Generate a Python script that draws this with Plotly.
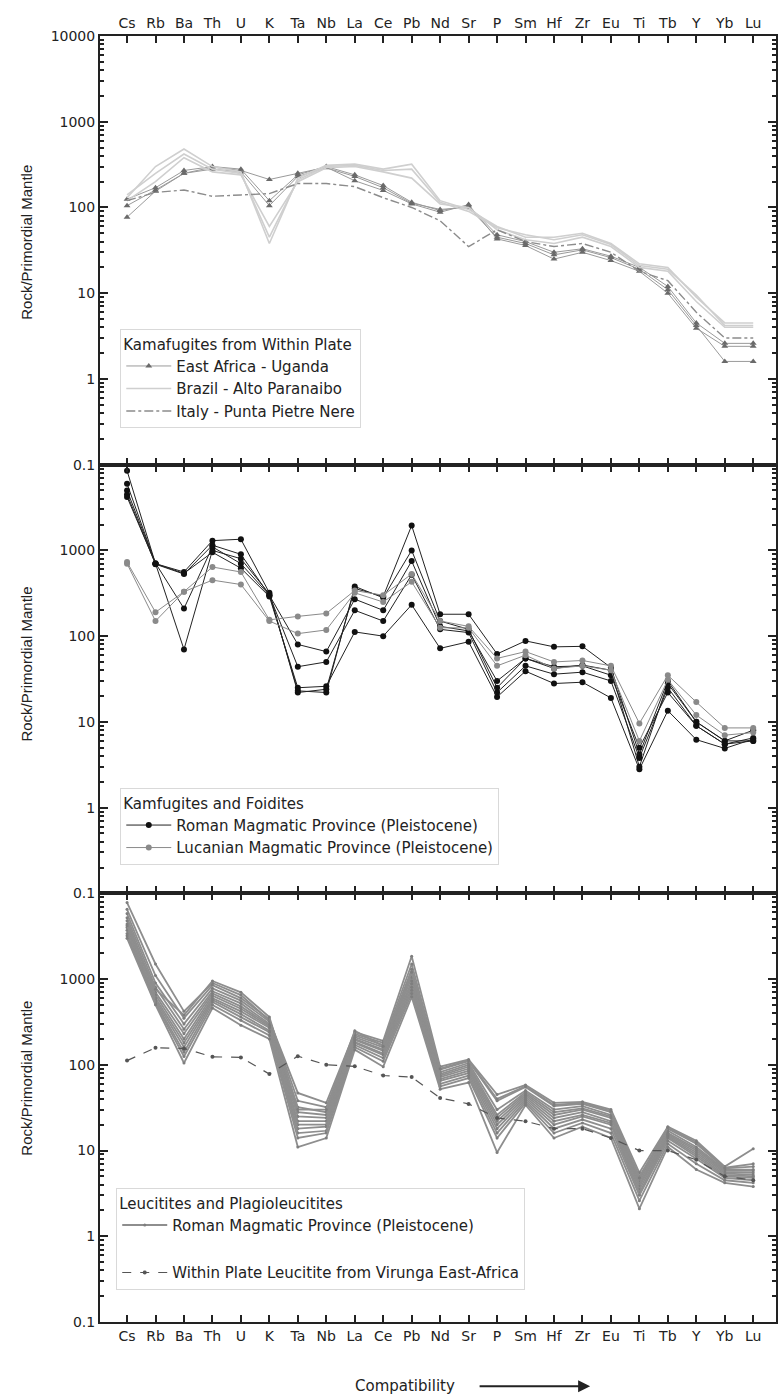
import plotly.graph_objects as go

ELEMENTS = ["Cs", "Rb", "Ba", "Th", "U", "K", "Ta", "Nb", "La", "Ce", "Pb", "Nd",
            "Sr", "P", "Sm", "Hf", "Zr", "Eu", "Ti", "Tb", "Y", "Yb", "Lu"]

# ---------------- Panel 1: Kamafugites from Within Plate ----------------
UGANDA_1 = [77, 155, 250, 295, 270, 212, 250, 295, 205, 158, 110, 88, 108, 43, 36, 25, 30, 24, 18, 10, 3.9, 2.4, 2.4]
UGANDA_2 = [105, 160, 250, 280, 260, 105, 230, 290, 230, 170, 112, 95, 100, 45, 38, 28, 32, 26, 19, 11, 4.2, 1.6, 1.6]
UGANDA_3 = [125, 170, 270, 300, 280, 120, 240, 300, 240, 180, 115, 92, 105, 48, 40, 30, 33, 27, 20, 12, 4.5, 2.6, 2.6]

BRAZIL_1 = [130, 300, 480, 300, 260, 38, 220, 310, 320, 280, 320, 120, 95, 60, 45, 45, 50, 38, 22, 20, 9, 4.5, 4.5]
BRAZIL_2 = [120, 200, 380, 260, 240, 60, 200, 290, 300, 260, 220, 110, 100, 55, 42, 38, 45, 35, 20, 18, 8, 4.0, 4.0]
BRAZIL_3 = [140, 250, 420, 280, 250, 45, 210, 300, 310, 270, 280, 115, 90, 58, 48, 42, 48, 37, 21, 19, 9.5, 4.2, 4.2]

ITALY_1 = [120, 150, 160, 135, 140, 145, 190, 190, 175, 130, 100, 70, 35, 55, 40, 35, 38, 30, 18, 14, 6, 3.0, 3.0]

# ---------------- Panel 2: Kamfugites and Foidites ----------------
ROMAN_KF_1 = [8500, 700, 560, 1300, 1350, 320, 22, 24, 360, 290, 1950, 180, 180, 62, 88, 75, 76, 43, 4.2, 30, 10, 6.0, 8.0]
ROMAN_KF_2 = [6000, 700, 70, 1000, 800, 310, 23, 22, 380, 280, 1000, 150, 120, 25, 55, 42, 46, 40, 3.0, 28, 10, 6.0, 6.0]
ROMAN_KF_3 = [5000, 710, 210, 1100, 700, 300, 44, 50, 200, 150, 520, 120, 110, 22, 45, 36, 38, 30, 3.8, 25, 9, 5.5, 6.0]
ROMAN_KF_4 = [4500, 690, 530, 1150, 900, 300, 80, 66, 270, 200, 750, 130, 115, 30, 55, 44, 45, 35, 5.0, 22, 9, 5.5, 6.5]
ROMAN_KF_5 = [4200, 700, 540, 950, 620, 290, 25, 26, 112, 100, 232, 72, 86, 19.5, 39, 28, 29, 19, 2.8, 13.5, 6.2, 4.9, 6.3]

LUCANIAN_1 = [730, 190, 330, 640, 560, 155, 170, 184, 340, 300, 530, 150, 130, 55, 66, 50, 52, 45, 9.6, 35, 17, 8.5, 8.5]
LUCANIAN_2 = [700, 150, 330, 450, 400, 150, 107, 118, 320, 250, 430, 125, 125, 45, 60, 42, 45, 40, 6.0, 31, 12, 7.0, 7.5]

# ---------------- Panel 3: Leucitites and Plagioleucitites ----------------
ROMAN_LC = [
    [7800, 1500, 420, 900, 650, 330, 47, 36, 240, 190, 1850, 95, 115, 45, 58, 36, 37, 30, 5.5, 19, 13, 6.5, 10.5],
    [6500, 1100, 350, 850, 600, 340, 38, 32, 230, 180, 1500, 88, 110, 38, 55, 33, 35, 28, 5.0, 18, 12, 6.2, 6.5],
    [5800, 900, 300, 780, 560, 320, 32, 28, 220, 170, 1300, 82, 105, 30, 50, 30, 33, 26, 4.6, 17, 11, 6.0, 6.0],
    [5200, 800, 260, 720, 520, 300, 28, 26, 210, 160, 1150, 78, 100, 26, 48, 28, 31, 25, 4.3, 16, 10.5, 5.8, 5.8],
    [4800, 700, 230, 680, 480, 290, 25, 24, 200, 150, 1050, 75, 95, 24, 46, 26, 30, 24, 4.0, 15.5, 10, 5.6, 5.5],
    [4400, 650, 200, 640, 450, 280, 22, 22, 195, 145, 950, 72, 90, 22, 44, 24, 28, 22, 3.8, 15, 9.5, 5.4, 5.2],
    [4000, 600, 180, 600, 420, 270, 20, 20, 185, 135, 880, 68, 85, 20, 42, 22, 26, 21, 3.5, 14.5, 9, 5.2, 5.0],
    [3700, 570, 160, 570, 390, 250, 18, 19, 180, 130, 800, 65, 80, 18, 40, 20, 25, 20, 3.2, 14, 8.5, 5.0, 4.8],
    [3400, 540, 140, 540, 360, 240, 16, 17, 170, 120, 740, 60, 75, 16, 38, 18, 23, 18, 3.0, 13, 8, 4.8, 4.5],
    [3200, 520, 125, 500, 330, 220, 14, 16, 160, 110, 680, 56, 70, 14, 36, 16, 21, 16, 2.6, 12, 7, 4.5, 4.2],
    [3000, 500, 105, 460, 290, 200, 11, 14, 150, 95, 620, 52, 62, 9.5, 34, 14, 19, 14, 2.1, 11, 6, 4.2, 3.8],
    [4200, 760, 380, 950, 700, 360, 30, 30, 250, 165, 1200, 90, 112, 40, 56, 34, 36, 29, 4.8, 18.5, 12.5, 6.3, 7.0],
]
VIRUNGA = [112, 158, 155, 124, 122, 78, 126, 100, 96, 75, 72, 41, 35, 24, 22, 18, 18, 14, 10, 10, 7.8, 5.0, 4.5]

Y_TICKS = [0.1, 1, 10, 100, 1000, 10000]
Y_TICKTEXT = ["0.1", "1", "10", "100", "1000", "10000"]

TXT = "#222222"
fig = go.Figure()


def add_group(series, name, xa, ya, legend, group, color, width, dash, symbol, msize, mcolor):
    for i, ys in enumerate(series):
        fig.add_trace(go.Scatter(
            x=ELEMENTS, y=ys, xaxis=xa, yaxis=ya, name=name,
            mode="lines+markers" if symbol else "lines",
            line=dict(color=color, width=width, dash=dash),
            marker=dict(symbol=symbol or "circle", size=msize, color=mcolor),
            legend=legend, legendgroup=group, showlegend=(i == 0),
        ))


# Panel 1
add_group([UGANDA_1, UGANDA_2, UGANDA_3], "East Africa - Uganda", "x", "y", "legend", "ug",
          "#9a9a9a", 1, "solid", "triangle-up", 6, "#6a6a6a")
add_group([BRAZIL_1, BRAZIL_2, BRAZIL_3], "Brazil - Alto Paranaibo", "x", "y", "legend", "br",
          "#cfcfcf", 1.6, "solid", None, 0, "#cfcfcf")
add_group([ITALY_1], "Italy - Punta Pietre Nere", "x", "y", "legend", "it",
          "#8c8c8c", 1.4, "dashdot", None, 0, "#8c8c8c")

# Panel 2
add_group([ROMAN_KF_1, ROMAN_KF_2, ROMAN_KF_3, ROMAN_KF_4, ROMAN_KF_5],
          "Roman Magmatic Province (Pleistocene)", "x2", "y2", "legend2", "rkf",
          "#222222", 1, "solid", "circle", 6, "#111111")
add_group([LUCANIAN_1, LUCANIAN_2], "Lucanian Magmatic Province (Pleistocene)", "x2", "y2", "legend2", "luc",
          "#8a8a8a", 1, "solid", "circle", 6, "#8a8a8a")

# Panel 3
add_group(ROMAN_LC, "Roman Magmatic Province (Pleistocene)", "x3", "y3", "legend3", "rlc",
          "#8e8e8e", 1.8, "solid", "circle", 3, "#7e7e7e")
add_group([VIRUNGA], "Within Plate Leucitite from Virunga East-Africa", "x3", "y3", "legend3", "vir",
          "#555555", 1.2, "dash", "circle", 4, "#555555")

MINOR = [k * 10 ** e for e in range(-1, 4) for k in range(2, 10)]

def xaxis(anchor, side, labels):
    return dict(type="category", categoryorder="array", categoryarray=ELEMENTS,
                range=[-0.95, 22.8], anchor=anchor, side=side, showticklabels=labels,
                ticks="inside", ticklen=7, tickwidth=1.5, tickcolor=TXT,
                showline=True, linecolor=TXT, linewidth=2, mirror="ticks",
                showgrid=False, zeroline=False,
                tickfont=dict(family="DejaVu Sans", size=14, color=TXT))

def yaxis(anchor, domain, top_label):
    vals = Y_TICKS if top_label else Y_TICKS[:-1]
    txt = Y_TICKTEXT if top_label else Y_TICKTEXT[:-1]
    return dict(type="log", range=[-1, 4], domain=domain, anchor=anchor,
                tickvals=vals, ticktext=txt, ticks="inside", ticklen=8, tickwidth=1.5,
                tickcolor=TXT, showline=True, linecolor=TXT, linewidth=2, mirror="ticks",
                showgrid=False, zeroline=False,
                minor=dict(tickvals=MINOR, ticks="inside", ticklen=4, tickcolor=TXT, showgrid=False),
                tickfont=dict(family="DejaVu Sans", size=14, color=TXT))

LEG_FONT = dict(family="DejaVu Sans", size=15, color=TXT)

def legend(x, y, title, gap=0):
    return dict(x=x, y=y, xanchor="left", yanchor="top", xref="paper", yref="paper",
                bordercolor="#d9d9d9", borderwidth=1, bgcolor="rgba(255,255,255,0.85)",
                font=LEG_FONT, title=dict(text=title, font=LEG_FONT),
                itemwidth=45, tracegroupgap=gap, traceorder="grouped")

annotations = []
for yc in [0.840, 0.512, 0.190]:
    annotations.append(dict(text="Rock/Primordial Mantle", x=-0.108, y=yc, xref="paper", yref="paper",
                            textangle=-90, showarrow=False, xanchor="center", yanchor="middle",
                            font=dict(family="Liberation Sans", size=15, color=TXT)))
annotations.append(dict(text="Compatibility", x=0.451, y=-0.05, xref="paper", yref="paper",
                        showarrow=False, xanchor="center", yanchor="middle",
                        font=dict(family="DejaVu Sans", size=15, color=TXT)))
annotations.append(dict(text="", x=0.725, y=-0.05, ax=-112, ay=0, xref="paper", yref="paper",
                        axref="pixel", ayref="pixel", showarrow=True, arrowhead=2, arrowsize=1.2,
                        arrowwidth=2, arrowcolor=TXT))

fig.update_layout(
    width=779, height=1398, margin=dict(l=100, r=1, t=36, b=76),
    plot_bgcolor="white", paper_bgcolor="white",
    xaxis=xaxis("y", "top", True),
    xaxis2=xaxis("y2", "bottom", False),
    xaxis3=xaxis("y3", "bottom", True),
    yaxis=yaxis("x", [2 / 3, 1], True),
    yaxis2=yaxis("x2", [1 / 3, 2 / 3], False),
    yaxis3=yaxis("x3", [0, 1 / 3], False),
    legend=legend(0.03, 0.772, "Kamafugites from Within Plate"),
    legend2=legend(0.03, 0.415, "Kamfugites and Foidites"),
    legend3=legend(0.024, 0.104, "Leucitites and Plagioleucitites", gap=25),
    annotations=annotations,
    showlegend=True,
)

fig.write_html("out.html")
